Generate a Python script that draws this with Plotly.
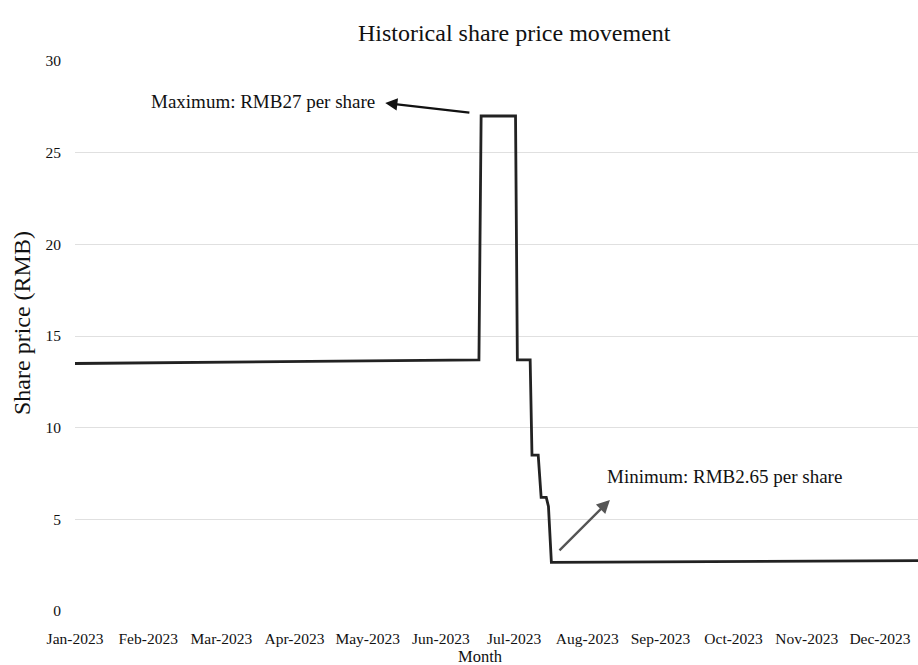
import plotly.graph_objects as go

# ---- data ----
month_labels = ["Jan-2023", "Feb-2023", "Mar-2023", "Apr-2023", "May-2023", "Jun-2023",
                "Jul-2023", "Aug-2023", "Sep-2023", "Oct-2023", "Nov-2023", "Dec-2023"]
month_pos = list(range(len(month_labels)))

# position along the month axis (0 = Jan-2023) and share price (RMB)
price_pos = [0.0, 5.52, 5.55, 6.02, 6.045, 6.22, 6.245, 6.33, 6.37, 6.44, 6.47, 6.51, 11.6]
price_rmb = [13.5, 13.7, 27.0, 27.0, 13.7, 13.7, 8.5, 8.5, 6.2, 6.2, 5.7, 2.65, 2.75]

y_ticks = [0, 5, 10, 15, 20, 25, 30]

FONT = "Liberation Serif, Times New Roman, serif"
TXT = "#111111"

fig = go.Figure()
fig.add_trace(go.Scatter(
    x=price_pos, y=price_rmb, mode="lines",
    line=dict(color="#222222", width=2.8),
    hoverinfo="skip", showlegend=False,
))

fig.update_layout(
    width=918, height=665,
    margin=dict(l=75, r=0, t=61, b=54),
    paper_bgcolor="white", plot_bgcolor="white",
    font=dict(family=FONT, color=TXT),
    title=dict(text="Historical share price movement", x=0.521, xref="paper", xanchor="center",
               y=1 - 33 / 665, yref="container", yanchor="middle",
               font=dict(family=FONT, size=24, color=TXT)),
    showlegend=False,
)
fig.update_xaxes(
    range=[0, 11.52], tickmode="array", tickvals=month_pos, ticktext=month_labels,
    showgrid=False, zeroline=False, showline=False, ticks="",
    ticklabelstandoff=16, tickfont=dict(family=FONT, size=15.5, color=TXT),
)
fig.update_yaxes(
    range=[0, 30], tickmode="array", tickvals=y_ticks,
    showgrid=True, gridcolor="#e0e0e0", gridwidth=1, zeroline=False, showline=False, ticks="",
    ticklabelstandoff=13, tickfont=dict(family=FONT, size=15.5, color=TXT),
)

# axis titles
fig.add_annotation(text="Share price (RMB)", xref="paper", yref="paper", x=(22 - 75) / 843,
                   y=(611 - 323) / 550, textangle=-90, showarrow=False,
                   font=dict(family=FONT, size=24, color=TXT), xanchor="center", yanchor="middle")
fig.add_annotation(text="Month", xref="paper", yref="paper", x=(480 - 75) / 843,
                   y=(611 - 656) / 550, showarrow=False,
                   font=dict(family=FONT, size=16.5, color=TXT), xanchor="center", yanchor="middle")

# callouts
fig.add_annotation(text="Maximum: RMB27 per share", x=2.565, y=27.77, showarrow=False,
                   font=dict(family=FONT, size=19, color=TXT), xanchor="center", yanchor="middle")
fig.add_annotation(text="", x=4.24, y=27.71, ax=5.41, ay=27.17, axref="x", ayref="y",
                   showarrow=True, arrowhead=2, arrowsize=1.1, arrowwidth=2.2, arrowcolor="#111111")
fig.add_annotation(text="Minimum: RMB2.65 per share", x=8.87, y=7.31, showarrow=False,
                   font=dict(family=FONT, size=19, color=TXT), xanchor="center", yanchor="middle")
fig.add_annotation(text="", x=7.31, y=6.06, ax=6.60, ay=3.22, axref="x", ayref="y",
                   showarrow=True, arrowhead=2, arrowsize=1.1, arrowwidth=2.4, arrowcolor="#555555")

fig.write_html("out.html", config={"displayModeBar": False},
               post_script="document.body.style.margin='0';document.body.style.overflow='hidden';")
